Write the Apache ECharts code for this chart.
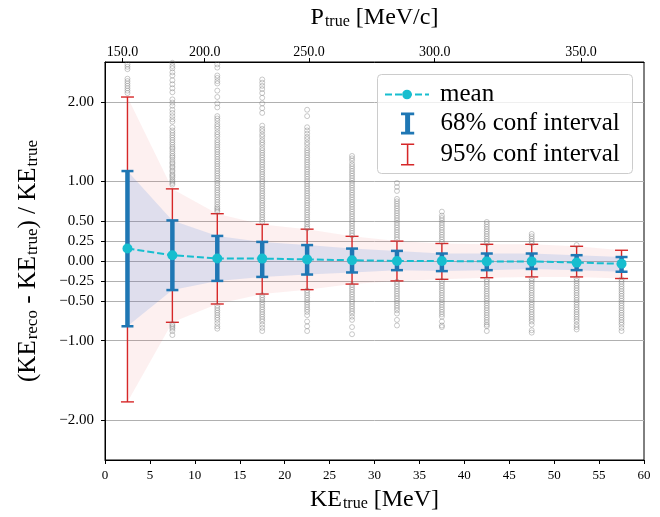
<!DOCTYPE html>
<html>
<head>
<meta charset="utf-8">
<script src="https://cdn.jsdelivr.net/npm/echarts@6/dist/echarts.min.js"></script>
<style>
  html, body { margin: 0; padding: 0; background: #ffffff; }
  #chart { width: 660px; height: 517px; }
</style>
</head>
<body>
<div id="chart"></div>
<script>
// Kinetic-energy bins (MeV) and per-bin resolution statistics
const binCenters = [2.5, 7.5, 12.5, 17.5, 22.5, 27.5, 32.5, 37.5, 42.5, 47.5, 52.5, 57.5];
const meanVals = [0.156, 0.073, 0.031, 0.030, 0.020, 0.010, 0.000, 0.000, -0.005, -0.005, -0.020, -0.035];
const lo68 = [-0.82, -0.365, -0.25, -0.20, -0.17, -0.144, -0.115, -0.127, -0.115, -0.10, -0.115, -0.135];
const hi68 = [1.13, 0.51, 0.315, 0.24, 0.20, 0.156, 0.127, 0.094, 0.094, 0.094, 0.073, 0.05];
const lo95 = [-1.77, -0.77, -0.54, -0.415, -0.36, -0.29, -0.25, -0.23, -0.21, -0.20, -0.20, -0.22];
const hi95 = [2.06, 0.906, 0.594, 0.46, 0.40, 0.31, 0.25, 0.22, 0.21, 0.21, 0.185, 0.135];

// Events falling outside the 95% interval, per bin
const outliersByBin = [
  [2.47, 2.44, 2.41, 2.29, 2.26, 2.23, 2.20, 2.17, 2.14, 2.11],
  [2.49, 2.45, 2.42, 2.37, 2.33, 2.27, 2.22, 2.17, 2.12, 2.03, 1.99, 1.95, 1.90, 1.86, 1.82, 1.78, 1.75, 1.68, 1.64, 1.61, 1.58, 1.55, 1.52, 1.49, 1.46, 1.43, 1.41, 1.38, 1.35, 1.32, 1.30, 1.27, 1.24, 1.22, 1.19, 1.17, 1.14, 1.12, 1.09, 1.07, 1.05, 1.02, 1.00, 0.98, 0.96,
   -0.79, -0.81, -0.83, -0.85, -0.88, -0.93],
  [2.47, 2.43, 2.33, 2.30, 2.26, 2.23, 2.14, 2.06, 1.98, 1.93, 1.82, 1.79, 1.76, 1.72, 1.69, 1.66, 1.62, 1.59, 1.56, 1.52, 1.49, 1.46, 1.43, 1.40, 1.37, 1.34, 1.31, 1.28, 1.25, 1.22, 1.19, 1.16, 1.13, 1.10, 1.07, 1.04, 1.01, 0.98, 0.95, 0.92, 0.89, 0.86, 0.83, 0.80, 0.77, 0.74, 0.71, 0.68, 0.66, 0.64, 0.62,
   -0.56, -0.59, -0.62, -0.65, -0.68, -0.71, -0.74, -0.78, -0.82, -0.85],
  [2.28, 2.24, 2.20, 2.16, 2.11, 2.05, 1.98, 1.92, 1.86, 1.70, 1.66, 1.63, 1.59, 1.56, 1.52, 1.49, 1.46, 1.42, 1.39, 1.36, 1.33, 1.30, 1.27, 1.24, 1.21, 1.18, 1.15, 1.12, 1.09, 1.06, 1.03, 1.00, 0.97, 0.94, 0.91, 0.88, 0.85, 0.82, 0.79, 0.76, 0.73, 0.70, 0.67, 0.64, 0.61, 0.58, 0.55, 0.52, 0.49,
   -0.43, -0.46, -0.49, -0.52, -0.55, -0.58, -0.61, -0.64, -0.67, -0.70, -0.73, -0.76, -0.80, -0.84, -0.88],
  [1.90, 1.82, 1.68, 1.64, 1.60, 1.56, 1.53, 1.49, 1.46, 1.42, 1.39, 1.36, 1.33, 1.30, 1.27, 1.24, 1.21, 1.18, 1.15, 1.12, 1.09, 1.06, 1.03, 1.00, 0.97, 0.94, 0.91, 0.88, 0.85, 0.82, 0.79, 0.76, 0.73, 0.70, 0.67, 0.64, 0.61, 0.58, 0.55, 0.52, 0.49, 0.46, 0.43, 0.41,
   -0.37, -0.40, -0.43, -0.46, -0.49, -0.52, -0.55, -0.58, -0.61, -0.64, -0.68, -0.76, -0.82, -0.88],
  [1.32, 1.29, 1.26, 1.22, 1.19, 1.16, 1.13, 1.10, 1.07, 1.04, 1.01, 0.98, 0.95, 0.92, 0.89, 0.86, 0.83, 0.80, 0.77, 0.74, 0.71, 0.68, 0.65, 0.62, 0.59, 0.56, 0.53, 0.50, 0.47, 0.44, 0.41, 0.38, 0.35, 0.32,
   -0.30, -0.33, -0.36, -0.39, -0.42, -0.45, -0.48, -0.51, -0.54, -0.57, -0.60, -0.63, -0.66, -0.70, -0.74, -0.83, -0.92],
  [0.98, 0.93, 0.88, 0.78, 0.75, 0.72, 0.69, 0.66, 0.63, 0.60, 0.57, 0.54, 0.51, 0.48, 0.45, 0.42, 0.39, 0.36, 0.33, 0.30, 0.27,
   -0.26, -0.29, -0.32, -0.35, -0.38, -0.41, -0.44, -0.47, -0.50, -0.53, -0.56, -0.59, -0.62, -0.66, -0.74, -0.81],
  [0.62, 0.57, 0.54, 0.51, 0.48, 0.45, 0.42, 0.39, 0.36, 0.33, 0.30, 0.27, 0.24,
   -0.25, -0.28, -0.31, -0.34, -0.37, -0.40, -0.43, -0.46, -0.49, -0.52, -0.55, -0.58, -0.61, -0.64, -0.67, -0.70, -0.76, -0.81, -0.83],
  [0.49, 0.46, 0.43, 0.40, 0.37, 0.34, 0.31, 0.28, 0.25, 0.22,
   -0.23, -0.26, -0.29, -0.32, -0.35, -0.38, -0.41, -0.44, -0.47, -0.50, -0.53, -0.56, -0.59, -0.62, -0.65, -0.68, -0.71, -0.74, -0.77, -0.80, -0.82, -0.88],
  [0.34, 0.31, 0.28, 0.25, 0.22,
   -0.22, -0.25, -0.28, -0.31, -0.34, -0.37, -0.40, -0.43, -0.46, -0.49, -0.52, -0.55, -0.58, -0.61, -0.64, -0.67, -0.70, -0.73, -0.76, -0.80, -0.87, -0.90],
  [0.20,
   -0.22, -0.25, -0.28, -0.31, -0.34, -0.37, -0.40, -0.43, -0.46, -0.49, -0.52, -0.55, -0.58, -0.61, -0.64, -0.67, -0.70, -0.73, -0.76, -0.80, -0.83, -0.86],
  [-0.23, -0.26, -0.29, -0.32, -0.35, -0.38, -0.41, -0.44, -0.47, -0.50, -0.53, -0.56, -0.59, -0.62, -0.65, -0.68, -0.71, -0.74, -0.77, -0.80, -0.84, -0.88]
];

// Axis ticks
const yTicks = [-2, -1, -0.5, -0.25, 0, 0.25, 0.5, 1, 2];
const topTickLabels = ['150.0', '200.0', '250.0', '300.0', '350.0'];
const topTickKE = [1.95, 11.1, 22.7, 36.7, 53.0];   // KE position of each momentum tick

const FONT = "'Liberation Serif', 'DejaVu Serif', serif";
const C_MEAN = '#17becf', C_68 = '#1f77b4', C_95 = '#d62728';

const pairs = (ys) => binCenters.map((x, i) => [x, ys[i]]);
const triples = (lo, hi) => binCenters.map((x, i) => [x, lo[i], hi[i]]);

const scatterData = [];
outliersByBin.forEach((vals, i) => vals.forEach(v => scatterData.push([binCenters[i], v])));

// Vertical error bar with caps at each bin
function errorBarSeries(name, lo, hi, color, stemWidth, capWidth, capHalf) {
  return {
    name, type: 'custom',
    itemStyle: { color },
    encode: { x: 0, y: [1, 2] },
    data: triples(lo, hi),
    renderItem(params, api) {
      const x = api.value(0);
      const a = api.coord([x, api.value(1)]);
      const b = api.coord([x, api.value(2)]);
      const stem = { stroke: color, lineWidth: stemWidth };
      const cap = { stroke: color, lineWidth: capWidth };
      return {
        type: 'group',
        children: [
          { type: 'line', shape: { x1: a[0], y1: a[1], x2: b[0], y2: b[1] }, style: stem },
          { type: 'line', shape: { x1: a[0] - capHalf, y1: a[1], x2: a[0] + capHalf, y2: a[1] }, style: cap },
          { type: 'line', shape: { x1: b[0] - capHalf, y1: b[1], x2: b[0] + capHalf, y2: b[1] }, style: cap }
        ]
      };
    }
  };
}

// Shaded interval band: one polygon through the upper bounds and back along the lower bounds
function bandSeries(name, lo, hi, fill) {
  return {
    name, type: 'custom', silent: true,
    encode: { x: 0, y: [1, 2] },
    data: triples(lo, hi),
    renderItem(params, api) {
      if (params.dataIndex !== 0) return null;
      const upper = binCenters.map((x, i) => api.coord([x, hi[i]]));
      const lower = binCenters.map((x, i) => api.coord([x, lo[i]])).reverse();
      return { type: 'polygon', shape: { points: upper.concat(lower) }, style: { fill } };
    }
  };
}

const titleMain = { fontFamily: FONT, fontSize: 24, color: '#000', verticalAlign: 'top', lineHeight: 26 };
const titleSub = { fontFamily: FONT, fontSize: 16, color: '#000', verticalAlign: 'top', lineHeight: 26, padding: [8, 0, 0, 1] };
const yMain = { fontFamily: FONT, fontSize: 25, color: '#000', verticalAlign: 'top', lineHeight: 27 };
const ySub = { fontFamily: FONT, fontSize: 17, color: '#000', verticalAlign: 'top', lineHeight: 27, padding: [8, 0, 0, 1] };

const chart = echarts.init(document.getElementById('chart'), null, { renderer: 'canvas' });
chart.setOption({
  animation: false,
  backgroundColor: '#ffffff',
  grid: { left: 105, right: 16, top: 62, bottom: 55, show: true, borderColor: '#000', borderWidth: 1, backgroundColor: 'transparent' },
  xAxis: [
    {
      type: 'value', position: 'bottom', min: 0, max: 60, interval: 5,
      axisLine: { show: true, onZero: false, lineStyle: { color: '#000', width: 1 } },
      axisTick: { show: true, length: 4, lineStyle: { color: '#000' } },
      axisLabel: { fontFamily: FONT, fontSize: 13, color: '#000', margin: 9 },
      splitLine: { show: false },
      name: '{m|KE}{s|true}{m| [MeV]}', nameLocation: 'middle', nameGap: 28,
      nameTextStyle: { rich: { m: titleMain, s: titleSub } }
    },
    {
      type: 'value', position: 'top', min: 0, max: 60,
      axisLine: { show: true, onZero: false, lineStyle: { color: '#000', width: 1 } },
      axisTick: { show: true, length: 4, customValues: topTickKE, lineStyle: { color: '#000' } },
      axisLabel: {
        customValues: topTickKE, fontFamily: FONT, fontSize: 14, color: '#000', margin: 3,
        formatter: (v) => {
          let k = 0;
          topTickKE.forEach((t, i) => { if (Math.abs(t - v) < Math.abs(topTickKE[k] - v)) k = i; });
          return topTickLabels[k];
        }
      },
      splitLine: { show: false },
      name: '{m|P}{s|true}{m| [MeV/c]}', nameLocation: 'middle', nameGap: 30,
      nameTextStyle: { rich: { m: titleMain, s: titleSub } }
    }
  ],
  yAxis: {
    type: 'value', min: -2.5, max: 2.5,
    axisLine: { show: true, onZero: false, lineStyle: { color: '#000', width: 1 } },
    axisTick: { show: true, length: 4, customValues: yTicks, lineStyle: { color: '#000' } },
    axisLabel: {
      customValues: yTicks, fontFamily: FONT, fontSize: 15, color: '#000', margin: 11,
      formatter: (v) => (v < 0 ? '\u2212' : '') + Math.abs(v).toFixed(2)
    },
    splitLine: { show: true, lineStyle: { color: '#b0b0b0', width: 1 } },
    name: '{m|(KE}{s|reco}{m| - KE}{s|true}{m|) / KE}{s|true}', nameLocation: 'middle', nameGap: 62,
    nameTextStyle: { rich: { m: yMain, s: ySub } }
  },
  legend: [
    {
      data: ['mean'], left: 384, top: 82, padding: 0,
      itemWidth: 44, itemHeight: 12, itemGap: 0,
      textStyle: { fontFamily: FONT, fontSize: 25, color: '#000', padding: [0, 0, 0, 6] },
      selectedMode: false
    },
    {
      data: [
        { name: '68% conf interval', icon: 'path://M0,0H12V2.5H8.25V17.5H12V20H0V17.5H3.75V2.5H0Z' },
        { name: '95% conf interval', icon: 'path://M0,0H12V1.4H6.7V18.6H12V20H0V18.6H5.3V1.4H0Z' }
      ],
      orient: 'vertical', left: 401, top: 111, padding: 0,
      itemWidth: 44, itemHeight: 22, itemGap: 6,
      textStyle: { fontFamily: FONT, fontSize: 25, color: '#000', padding: [0, 0, 0, 6] },
      selectedMode: false
    }
  ],
  graphic: [
    {
      type: 'rect', z: 3, left: 377, top: 74,
      shape: { width: 255, height: 99, r: 4 },
      style: { fill: 'rgba(255,255,255,0.8)', stroke: '#cccccc', lineWidth: 1 }
    }
  ],
  series: [
    bandSeries('95% band', lo95, hi95, 'rgba(230,60,70,0.08)'),
    bandSeries('68% band', lo68, hi68, 'rgba(53,120,220,0.15)'),
    {
      name: 'events', type: 'scatter', symbol: 'circle', symbolSize: 5, silent: true,
      itemStyle: { color: 'rgba(0,0,0,0)', borderColor: 'rgba(115,115,115,0.6)', borderWidth: 0.8 },
      data: scatterData
    },
    errorBarSeries('95% conf interval', lo95, hi95, C_95, 1.4, 1.4, 6.5),
    errorBarSeries('68% conf interval', lo68, hi68, C_68, 4.5, 2.5, 6),
    {
      name: 'mean', type: 'line', data: pairs(meanVals),
      symbol: 'circle', symbolSize: 10,
      itemStyle: { color: C_MEAN },
      lineStyle: { color: C_MEAN, width: 2, type: [7, 3] }
    }
  ]
});
</script>
</body>
</html>
